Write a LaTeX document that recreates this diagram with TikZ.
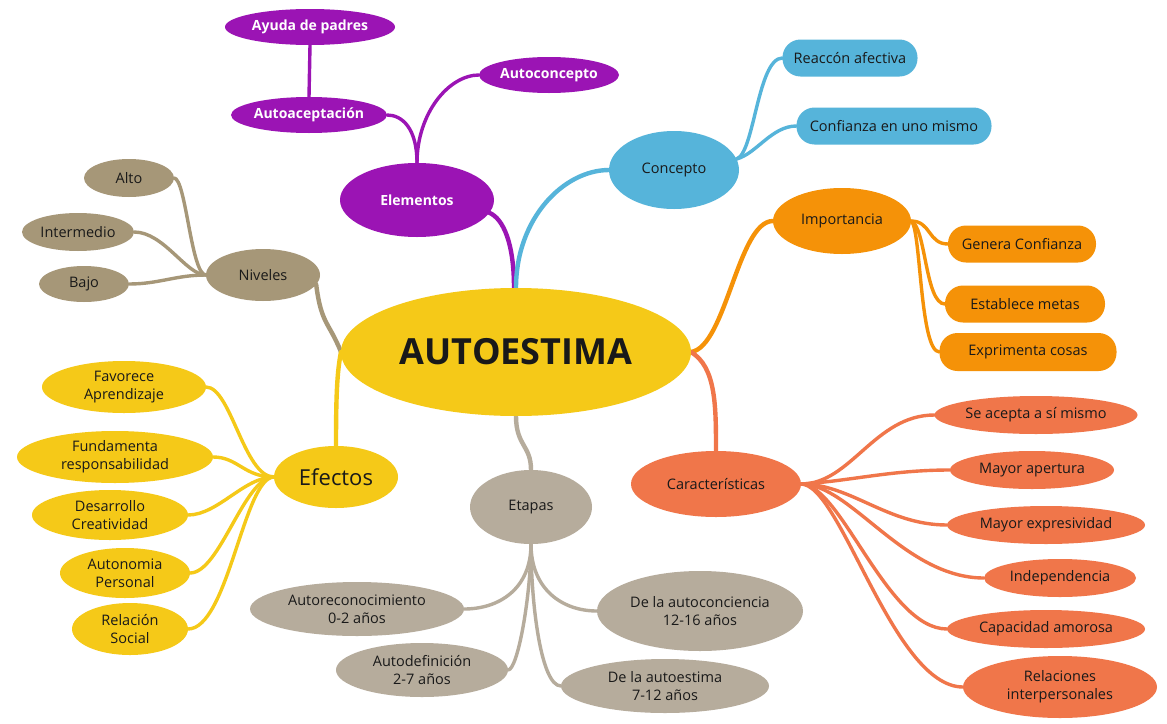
\documentclass[tikz,border=0pt]{standalone}
\usepackage{fontspec}
\setmainfont{Open Sans}
\usetikzlibrary{shapes.geometric}
\pgfdeclarelayer{bg}\pgfsetlayers{bg,main}
\definecolor{purp}{RGB}{155,20,180}
\definecolor{skyb}{RGB}{86,180,218}
\definecolor{orng}{RGB}{245,146,8}
\definecolor{redo}{RGB}{240,118,74}
\definecolor{yelo}{RGB}{245,201,24}
\definecolor{tanc}{RGB}{166,151,120}
\definecolor{gryc}{RGB}{182,172,156}
\definecolor{txt}{RGB}{25,25,25}
\tikzset{
  every node/.style={inner sep=0pt, outer sep=0pt, align=center, text=txt, font=\fontsize{14.5}{18}\selectfont},
  el/.style={ellipse, draw=none},
  rbox/.style={rectangle, rounded corners=18pt, draw=none},
  wl/.style={text=white, font=\bfseries\fontsize{14}{18}\selectfont},
  lk/.style={line width=3.4pt, line cap=round},
  mk/.style={line width=4.4pt, line cap=round},
}
\begin{document}
\begin{tikzpicture}[x=1pt,y=-1pt]
\useasboundingbox (0,0) rectangle (1167,723);
% center
\node[el, fill=yelo, minimum width=350, minimum height=128, label={[font=\bfseries\fontsize{36}{40}\selectfont]center:AUTOESTIMA}] (AUTO) at (516,352) {};
% purple
\node[el, fill=purp, minimum width=154, minimum height=74, label={[wl]center:Elementos}] (Elem) at (417,200) {};
\node[el, fill=purp, minimum width=140, minimum height=36, label={[wl]center:Autoconcepto}] (Aconc) at (549,75) {};
\node[el, fill=purp, minimum width=156, minimum height=36, label={[wl]center:Autoaceptación}] (Aacep) at (309,115) {};
\node[el, fill=purp, minimum width=170, minimum height=36, label={[wl]center:Ayuda de padres}] (Ayuda) at (310,27) {};
% blue
\node[el, fill=skyb, minimum width=130, minimum height=78, label={center:Concepto}] (Conc) at (674,170) {};
\node[rbox, fill=skyb, minimum width=135, minimum height=37, label={center:Reaccón afectiva}] (Reac) at (850,58) {};
\node[rbox, fill=skyb, minimum width=195, minimum height=37, label={center:Confianza en uno mismo}] (Conf) at (894,126) {};
% orange
\node[el, fill=orng, minimum width=138, minimum height=66, label={center:Importancia}] (Imp) at (842,221) {};
\node[rbox, fill=orng, minimum width=148, minimum height=37, label={center:Genera Confianza}] (Gen) at (1022,244) {};
\node[rbox, fill=orng, minimum width=160, minimum height=37, label={center:Establece metas}] (Est) at (1025,304) {};
\node[rbox, fill=orng, minimum width=177, minimum height=38, label={center:Exprimenta cosas}] (Exp) at (1028,352) {};
% red-orange
\node[el, fill=redo, minimum width=170, minimum height=66, label={center:Características}] (Car) at (716,484) {};
\node[el, fill=redo, minimum width=203, minimum height=38, label={center:Se acepta a sí mismo}] (Sea) at (1036,415) {};
\node[el, fill=redo, minimum width=164, minimum height=38, label={center:Mayor apertura}] (May) at (1032,470) {};
\node[el, fill=redo, minimum width=198, minimum height=38, label={center:Mayor expresividad}] (Mex) at (1046,525) {};
\node[el, fill=redo, minimum width=152, minimum height=38, label={center:Independencia}] (Ind) at (1060,578) {};
\node[el, fill=redo, minimum width=198, minimum height=38, label={center:Capacidad amorosa}] (Cap) at (1046,629) {};
\node[el, fill=redo, minimum width=194, minimum height=62, label={center:Relaciones\\interpersonales}] (Rel) at (1060,687) {};
% grey
\node[el, fill=gryc, minimum width=122, minimum height=74, label={center:Etapas}] (Eta) at (531,507) {};
\node[el, fill=gryc, minimum width=214, minimum height=54, label={center:Autoreconocimiento\\0-2 años}] (Arec) at (357,609) {};
\node[el, fill=gryc, minimum width=206, minimum height=80, label={center:De la autoconciencia\\12-16 años}] (Dac) at (700,611) {};
\node[el, fill=gryc, minimum width=172, minimum height=54, label={center:Autodefinición\\2-7 años}] (Adef) at (422,670) {};
\node[el, fill=gryc, minimum width=208, minimum height=54, label={center:De la autoestima\\7-12 años}] (Dae) at (665,686) {};
% yellow
\node[el, fill=yelo, minimum width=124, minimum height=62, label={[font=\fontsize{22}{26}\selectfont]center:Efectos}] (Efe) at (336,477) {};
\node[el, fill=yelo, minimum width=164, minimum height=52, label={center:Favorece\\Aprendizaje}] (Fav) at (124,387) {};
\node[el, fill=yelo, minimum width=196, minimum height=52, label={center:Fundamenta\\responsabilidad}] (Fun) at (115,457) {};
\node[el, fill=yelo, minimum width=156, minimum height=50, label={center:Desarrollo\\Creatividad}] (Des) at (110,515) {};
\node[el, fill=yelo, minimum width=130, minimum height=50, label={center:Autonomia\\Personal}] (Aut) at (125,573) {};
\node[el, fill=yelo, minimum width=116, minimum height=52, label={center:Relación\\Social}] (Rso) at (130,629) {};
% tan
\node[el, fill=tanc, minimum width=114, minimum height=52, label={center:Niveles}] (Niv) at (263,275) {};
\node[el, fill=tanc, minimum width=90, minimum height=38, label={center:Alto}] (Alto) at (129,178) {};
\node[el, fill=tanc, minimum width=112, minimum height=38, label={center:Intermedio}] (Int) at (78,232) {};
\node[el, fill=tanc, minimum width=90, minimum height=36, label={center:Bajo}] (Bajo) at (84,284) {};

\begin{pgfonlayer}{bg}
\fill[white] (0,0) rectangle (1167,723);
% main branches
\draw[mk, purp] (Elem.-10) .. controls +(14,6) and +(0,-45) .. ([xshift=-2pt]AUTO.north);
\draw[mk, skyb] ([xshift=0pt]AUTO.north) .. controls +(0,-70) and +(-45,0) .. (Conc.west);
\draw[mk, orng] (AUTO.east) .. controls +(35,-5) and +(-35,0) .. (Imp.west);
\draw[mk, redo] (AUTO.east) .. controls +(25,15) and +(0,-45) .. (Car.north);
\draw[mk, tanc] (AUTO.west) .. controls +(-12,-30) and +(5,40) .. (Niv.-10);
\draw[mk, yelo] (AUTO.west) .. controls +(-4,20) and +(0,-50) .. (Efe.north);
\draw[mk, gryc] (AUTO.south) .. controls +(0,30) and +(0,-25) .. (Eta.north);
% purple children
\draw[lk, purp] (Elem.north) .. controls +(0,-35) and +(15,0) .. (Aacep.east);
\draw[lk, purp] (Elem.north) .. controls +(0,-50) and +(-30,0) .. (Aconc.west);
\draw[lk, purp] (Ayuda.south) -- (Aacep.north);
% blue children
\draw[lk, skyb] (Conc.10) .. controls +(18,-5) and +(-25,0) .. (Reac.west);
\draw[lk, skyb] (Conc.10) .. controls +(20,-5) and +(-25,0) .. (Conf.west);
% orange children
\draw[lk, orng] (Imp.east) .. controls +(20,0) and +(-20,0) .. (Gen.west);
\draw[lk, orng] (Imp.east) .. controls +(15,5) and +(-20,0) .. (Est.west);
\draw[lk, orng] (Imp.east) .. controls +(10,5) and +(-20,0) .. (Exp.west);
% red children
\draw[lk, redo] (Car.east) .. controls +(50,0) and +(-60,0) .. (Sea.west);
\draw[lk, redo] (Car.east) .. controls +(50,-3) and +(-60,0) .. (May.west);
\draw[lk, redo] (Car.east) .. controls +(50,0) and +(-60,0) .. (Mex.west);
\draw[lk, redo] (Car.east) .. controls +(50,0) and +(-80,0) .. (Ind.west);
\draw[lk, redo] (Car.east) .. controls +(40,0) and +(-60,0) .. (Cap.west);
\draw[lk, redo] (Car.east) .. controls +(40,0) and +(-70,0) .. (Rel.west);
% grey children
\draw[lk, gryc] (Eta.south) .. controls +(0,45) and +(35,0) .. (Arec.east);
\draw[lk, gryc] (Eta.south) .. controls +(0,45) and +(-35,0) .. (Dac.west);
\draw[lk, gryc] (Eta.south) .. controls +(0,50) and +(10,0) .. (Adef.east);
\draw[lk, gryc] (Eta.south) .. controls +(0,60) and +(-20,0) .. (Dae.west);
% yellow children
\draw[lk, yelo] (Efe.west) .. controls +(-30,0) and +(25,0) .. (Fav.east);
\draw[lk, yelo] (Efe.west) .. controls +(-30,0) and +(25,0) .. (Fun.east);
\draw[lk, yelo] (Efe.west) .. controls +(-30,0) and +(30,0) .. (Des.east);
\draw[lk, yelo] (Efe.west) .. controls +(-30,0) and +(30,0) .. (Aut.east);
\draw[lk, yelo] (Efe.west) .. controls +(-30,0) and +(40,0) .. (Rso.east);
% tan children
\draw[lk, tanc] (Niv.west) .. controls +(-15,0) and +(12,0) .. (Alto.east);
\draw[lk, tanc] (Niv.west) .. controls +(-20,0) and +(30,0) .. (Int.east);
\draw[lk, tanc] (Niv.west) .. controls +(-30,0) and +(30,0) .. (Bajo.east);
\end{pgfonlayer}
\end{tikzpicture}
\end{document}
